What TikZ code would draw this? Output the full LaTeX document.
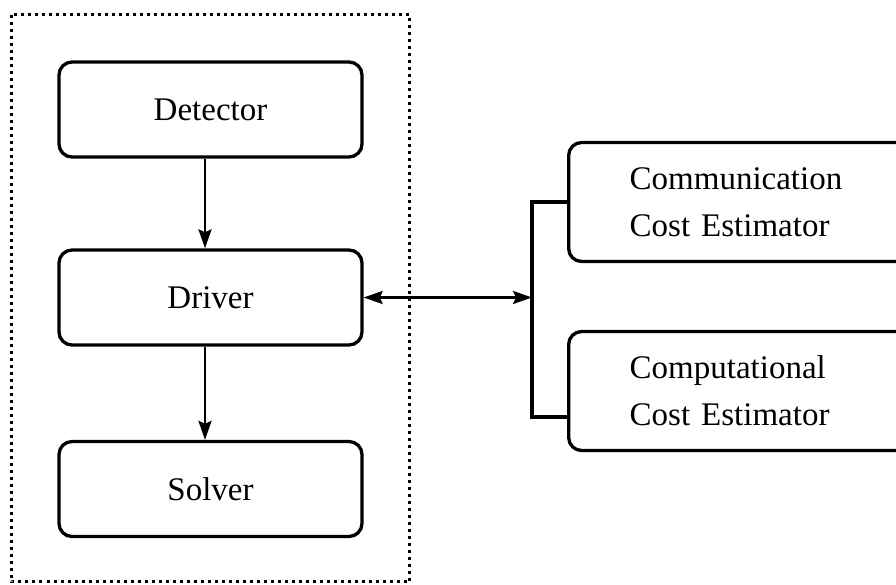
\documentclass[tikz,border=0pt]{standalone}
\usepackage{fontspec}
\setmainfont{Liberation Serif}
\usetikzlibrary{arrows.meta}
\begin{document}
\begin{tikzpicture}[x=1pt,y=-1pt,
  font=\fontsize{33}{47}\selectfont,
  tip/.style={Stealth[length=19pt,width=13pt,inset=3pt]},
  module/.style={draw, line width=3.3pt, rounded corners=13pt, inner sep=0pt,
    minimum width=303pt, minimum height=95pt},
  estimator/.style={draw, line width=3.3pt, rounded corners=13pt, inner xsep=61pt,
    inner ysep=0pt, text width=300pt, align=left, minimum height=119pt,
    anchor=west},
  flow/.style={line width=2.8pt, -{Stealth[length=19pt,width=13pt,inset=3pt]}},
  both/.style={line width=2.8pt, {Stealth[length=19pt,width=13pt,inset=3pt]}-{Stealth[length=19pt,width=13pt,inset=3pt]}},
  group/.style={line width=2.8pt, dash pattern=on 3pt off 4pt}]
\useasboundingbox (0,0) rectangle (896,584);
\clip (0,0) rectangle (896,584);

% process group
\coordinate (gtl) at (11.5,14.5);
\coordinate (gbr) at (409.5,581.5);
\draw[group] (gtl) rectangle (gbr);

% modules inside the group
\node[module] (det) at (210.5,109.5) {Detector};
\node[module] (drv) at (210.5,297.5) {Driver};
\node[module] (sol) at (210.5,489) {Solver};

% cost estimators
\node[estimator] (comm) at (567,202) {Communication\\Cost Estimator};
\node[estimator] (comp) at (567,391) {Computational\\Cost Estimator};

% vertical flow
\draw[flow] (det.south -| 205,0) -- (drv.north -| 205,0);
\draw[flow] (drv.south -| 205,0) -- (sol.north -| 205,0);

% bracket joining the estimators
\coordinate (btop) at (532,202);
\coordinate (bbot) at (532,417);
\coordinate (bmid) at (532,297.5);
\draw[line width=3.3pt, line join=miter] (comm.west) -- (btop) -- (bbot) -- (bbot -| comp.west);

% exchange between driver and estimators
\draw[both] (drv.east) -- (bmid);
\end{tikzpicture}
\end{document}
